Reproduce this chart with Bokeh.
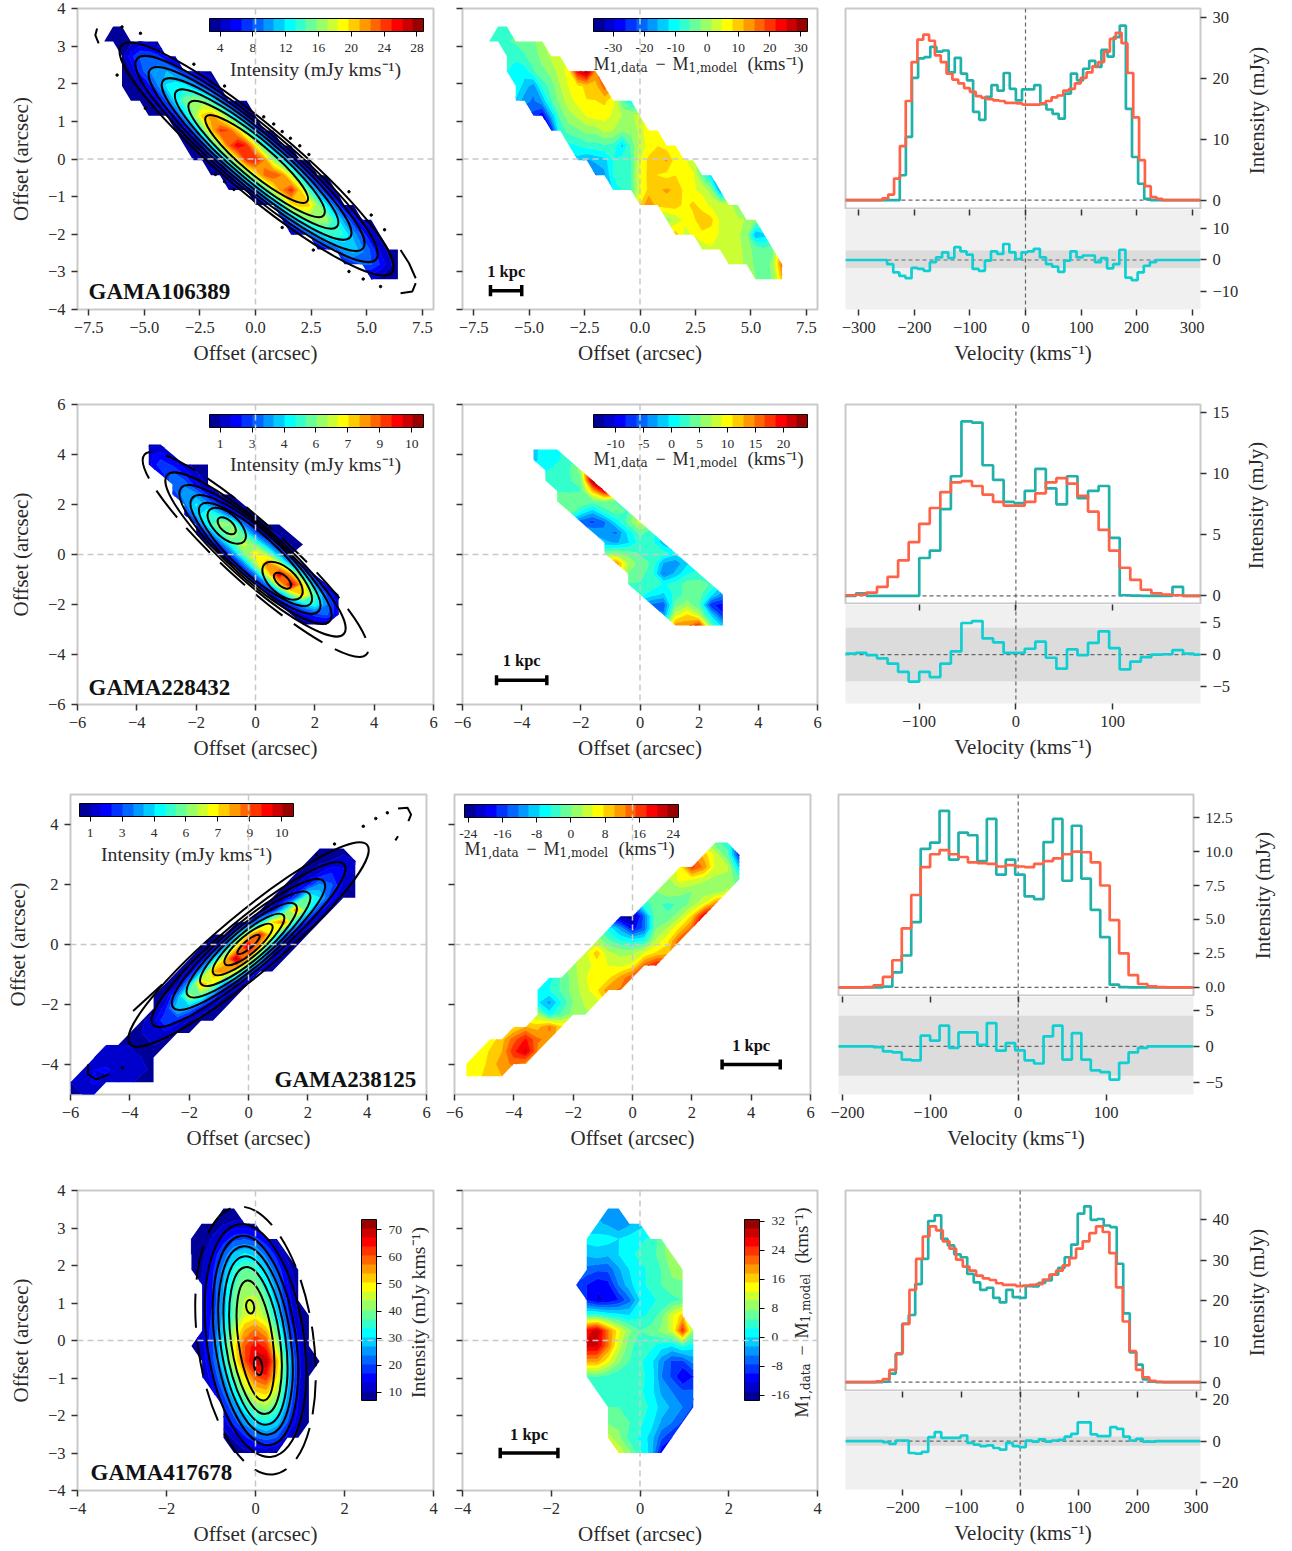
import math
import numpy as np
from bokeh.plotting import figure
from bokeh.layouts import row, column
from bokeh.models import (Range1d, FixedTicker, LinearAxis, Span, BoxAnnotation, Label,
                          ColorBar, LinearColorMapper, CustomLabelingPolicy)
from bokeh.embed import file_html
from bokeh.resources import INLINE

# ---------------- velocity profiles (mJy)
V1 = dict(model0=-252.3, modeld=10.5, data0=-220.8, datad=11.0, res0=-243.6, resd=11.0)
P1_MODEL = [.3,.93,3.56,8.9,16.3,22.7,26.4,27.2,26.2,23.8,22.7,20.8,19.8,19.2,18.4,17.8,17.1,16.8,16.6,16.4,16.3,16,16,15.9,15.7,15.7,15.7,15.9,16.3,16.9,17.2,18,18.3,19.2,20.1,21,22,22.7,24.4,26.5,27.5,25.8,20.9,13.6,6.6,2.3,.5,.2]
P1_DATA = [4.1,10.4,20.1,23.3,23.5,25.2,24.4,24.6,21,23.4,20.8,19.7,14.5,13.2,17,18.9,18,20.9,18.3,16.4,18.2,18.2,18.9,15.8,14.9,14.2,13.4,17.5,20.8,19.7,21.6,22.9,21.9,24.7,23.6,26.8,28.7,15,7.1,2.7,.2]
P1_RES = [-1.3,-3.9,-5,-5.7,-2.5,-2.8,-3.4,-.7,.8,2.4,.6,4,2.7,1.7,-2.8,-3.4,-.2,2.7,1.9,5,2.4,.3,2.4,2.7,3.5,.8,-1.3,-2.1,-3.7,-.2,2.7,.8,1.4,1.4,-.7,.6,-2.6,-1.3,3.2,-5.5,-6.3,-3.9,-1.8,-.7]
V2 = dict(model0=-170.7, modeld=10.9, data0=-170.7, datad=10.9, res0=-170.7, resd=10.9)
P2_MODEL = [.05,.1,.27,.74,1.55,2.9,4.4,5.9,7.2,8.5,9.3,9.4,9,8.3,7.7,7.4,7.4,7.7,8.4,9.3,9.65,9.2,8.2,6.9,5.4,3.7,2.3,1.3,.5,.2,.1,.05]
P2_DATA = [0,.2,0,0,0,0,0,3.1,3.7,7.1,9.8,14.3,14.2,10.7,9.5,7.7,7.6,8.6,10.4,8.8,7.5,9.8,8,8.6,9,4.75,.05,.02,0,0,0,.74,0]
P2_RES = [.15,.25,-.1,-.6,-1.4,-2.7,-4.2,-2.7,-3.5,-1.4,.5,4.9,5.2,2.5,1.9,.25,.25,.9,2,-.5,-2.2,.8,-.1,1.8,3.6,1,-2.3,-1.1,-.4,0,.05,.7,.15]
V3 = dict(model0=-170.2, modeld=10.76, data0=-170.2, datad=10.76, res0=-170.2, resd=10.76)
P3_MODEL = [.02,.15,.77,2,4.35,6.8,8.85,9.8,10.1,9.8,9.6,9.2,9.15,9.1,8.9,9,8.9,8.85,9.1,9.3,9.5,9.8,10,9.95,9.2,7.5,4.95,2.5,.9,.25,.07,.02]
P3_DATA = [0,0,.05,1.1,2.35,4.8,10.2,10.65,13,9.4,11.4,11.2,9.3,12.4,8.3,9.4,8.3,6.7,6.5,10.7,12.4,7.85,11.9,8,5.7,3.7,.2,.02]
P3_RES = [0,-.1,-.7,-.85,-1.85,-1.95,1.5,.8,2.9,-.2,1.95,1.95,.2,3.25,-.6,.45,-.55,-1.95,-2.4,1.4,2.9,-1.85,1.85,-1.85,-3.35,-3.6,-4.65,-2.3,-.85,-.2,0]
V4 = dict(model0=-239.8, modeld=11.36, data0=-239.8, datad=11.08, res0=-239.8, resd=11.08)
P4_MODEL = [.2,.75,3,7.1,14.3,22.7,30.3,35.8,38.3,37.3,34.6,32.8,30.1,28.4,27.4,26.2,25.5,25.1,24.3,23.9,23.9,23.6,23.7,23.9,24.1,25.2,26.4,27.4,28.7,30.5,32.8,34.6,36.6,38.3,36.9,31.7,23.3,14.9,7.6,3,1.15,.3,.1]
P4_DATA = [0,.1,2.1,6.9,14.3,16.5,24.1,30.3,39.6,41,35.2,33.6,31.4,30.7,26.6,24.5,22.7,23.2,20.7,19.6,22.7,20.9,20.7,23.6,23.5,24.4,25,26.4,28.1,30.7,33.8,41.4,43.2,39.9,40.1,38.5,38.1,29.1,16.9,7.3,4.3,.7,.1]
P4_RES = [0,-.5,-1.3,.3,.3,-5.7,-6,-5.2,1.9,4.3,1.6,1.6,1.6,2.7,-.8,-1.7,-2.4,-2,-3.3,-4.1,-.8,-2.4,-2.9,.3,-.2,.8,-.2,.3,.6,2.2,3.5,9,9,3.2,2.4,2.4,6.7,5.9,2.2,.3,1.1,-.2,-.2,0]

# ---------------- intensity maps: each row is (first x on the grid, node values) from the top row down
M1 = [(-6.4,[3,3]),(-6.8,[3,3,3,3.5,4,3.5,3]),(-6,[3.5,6,8,8,7,5,4]),
 (-6,[3,4,7,9,10.5,10.5,8.5,6.5,4.5,3.5,3]),(-6,[3,3,4,6,9,12,13,12.5,10.5,8,5.5,3.5]),
 (-5.6,[3,3,3.5,5,8,12,15,16.5,16,13.5,9,5.5,3.5,3]),(-4.8,[3,3,4,6.5,10.5,15.5,20,21.5,19,14,9.5,5.5,3.5]),
 (-3.6,[3,4,8,14,20,24,23.5,20,14.5,8.5,5.5,3.5]),(-3.2,[3,3.5,6,11.5,17,23,26,24.5,19,13,8,5,3.5]),
 (-2.8,[3,3,4.5,7.5,13,19,24,25,22,17,12.5,8,4.5,3]),(-2,[3,3.5,5.5,9,14,18.5,22.5,23.5,22,17.5,11.5,6.5,3.5,3]),
 (-1.2,[3,3.5,5.5,8.5,13,18,22,24.5,20,14,9,5.5,3.5]),(0,[3.5,5,8.5,13,19,20.5,20,16,12,8,4.5,3]),
 (1.2,[5.5,9,12.5,15.5,17,16.5,13,9.5,6.5,4,3]),(1.6,[3.5,5,8,10.5,13,14,13,10,7.5,5,3.5]),
 (2.8,[4,6,8,10.5,11.5,9.5,7.5,5,3.5,3]),(4,[5.5,7,8,8,6.5,4.5,3]),(5.2,[4,3.5,3,3])]
M2 = [(-3.6,[.9,.9]),(-3.6,[1.4,1.7,1.2]),(-3.6,[1.3,2.3,1.9,1.2,.8,.7]),(-3.2,[1.7,2.7,2,1.1,.7]),
 (-2.8,[2.8,2.9,1.7,.9]),(-2.8,[1.8,3.4,3.2,1.9,1,.7]),(-2.4,[2.8,4.1,3.2,1.9,1,.6]),(-2.4,[1.4,3.6,5,4,2.2,1.1,.7]),
 (-2,[1.9,4.3,6,5.5,3,1.4,.8,.7]),(-2,[.8,2.3,4.5,6,5,2.8,1.4,.9,.7]),(-1.6,[.9,2.3,4.6,6.3,5.3,3.2,1.7,1,.7]),
 (-1.2,[1,2.6,5.2,7,5.8,3.3,1.3]),(-.8,[1,2.8,5.7,8.2,6.5,3.3,1.2]),(-.4,[1.1,3,6.5,9.5,7.5,3.8,1.2]),
 (0,[1.1,3,6.8,9.6,7,3,.9]),(.4,[1,2.7,5.5,7.2,5,2.3,.8]),(.8,[1,2.2,3.6,4.5,3,1.2]),(1.2,[.8,1.4,2.2,2.6,1.5]),(1.6,[.7,.9,.9])]
M3 = [(2.4,[.6,.7,.8]),(2,[.7,.8,1,1.2,1]),(1.6,[.7,.9,1.5,2,1.7,.9]),(1.2,[.7,1,2,3.2,2.6,1.3,.8]),
 (.8,[.7,1,2.5,5.2,4,1.8,.9,.7]),(.4,[.7,1.2,4,8,4.5,1.7,.8]),(-.4,[.6,1.2,3.8,7,8,4,1.4,.7]),
 (-1.2,[.6,1,3.2,7,9,6.5,3,1.1,.6]),(-1.6,[.6,1,3,6.8,10,7,3,1.1,.6]),(-2,[.7,1.2,3.5,7,10,7.2,3.5,1.3,.6]),
 (-2.4,[.6,1.2,3.5,7.5,8,6,2.8,1.2,.7]),(-2.8,[.6,1,3.5,7.5,6.5,3,1.3,.7]),(-3.2,[.6,1,3,6,5,2.5,1,.6]),
 (-3.2,[.8,1.8,4,3.2,1.6,.8,.6]),(-3.6,[.9,1.3,2.5,1.8,.9,.6,.5]),(-4,[.9,1,1.5,1.3,.8,.6]),
 (-4.8,[1,1,1,1,1,.7]),(-5.2,[1,1.2,1.2,1.1,1,.9]),(-5.6,[1.1,1.5,1.6,1.3,1.4,1.1,.9]),
 (-6,[1,1.3,1.6,1.3,1,1.1,.8,.8]),(-6,[.9,1,1])]
M4 = [(-.72,[8,8]),(-1.2,[7,8,10,11,11,9]),(-1.44,[7,8,11,15,19,20,18,14,9]),(-1.44,[7,9,14,21,28,31,29,22,15,9]),
 (-1.44,[8,10,16,25,34,38,36,28,20,12,8]),(-1.2,[11,17,27,36,42,41,33,24,14,9]),(-1.2,[11,17,27,38,44,45,38,27,16,9]),
 (-1.2,[11,18,28,38,46,48,42,30,18,10,8]),(-1.2,[12,19,30,43,54,58,53,37,22,12,8]),(-1.44,[8,12,20,32,48,60,66,62,44,26,14,9]),
 (-1.2,[11,19,31,46,60,69,70,53,31,15,9,7.5]),(-1.2,[10,16,26,38,50,60,63,50,29,15,8]),(-.96,[13,21,31,42,50,52,44,27,14,8]),
 (-.72,[16,24,33,40,42,37,24,13,8]),(-.72,[12,18,25,30,33,29,20,11,7.5]),(-.72,[8,11,16,20,22,20,12,8]),(-.48,[8,9,10,10,8])]

# ---------------- velocity-residual maps (km/s), same row layout
R1 = [(-6.4,[-7,-7]),(-6.8,[-6,-6,-6,-5,-4,-3,1]),(-6,[-7,-8,-6,-4,-1,2,3]),
 (-6,[-9,-11,-11,-6,-3,-1,3,6,24,30,14]),(-5.6,[-10,-14,-18,-8,-4,1,5,7,9,10,17]),
 (-5.6,[-13,-18,-20,-16,-6,-1,3,6,8,8,9,5,-5,-12]),(-4.8,[-24,-30,-16,-5,0,2,5,6,6,4,1,1,2]),
 (-4,[-28,-8,-4,-3,-1,-1,2,1,-2,-1,2,8,7]),(-3.2,[-10,-9,-7,-7,-6,-7,-14,-5,2,6,8,6,5]),
 (-2.8,[-14,-17,-15,-14,-9,-7,-6,4,9,10,12,6,5,3]),(-2,[-20,-17,-9,-7,-6,5,9,8,7,8,5,5,-5,-14]),
 (-1.2,[-12,-8,-6,4,9,11,12,11,7,5,4,-1,-18]),(0,[8,15,9,10,10,7,9,6,4,3,3,-3]),
 (1.2,[-1,2,5,7,11,9,4,2,2,1,-2]),(1.6,[10,4,5,7,7,4,3,2,-2,-16,-14]),(2.8,[2,4,3,2,3,-1,-3,-5,-3]),
 (4,[4,3,0,-3,-4,-1,16]),(5.2,[-2,-3,-2,10])]
R2 = [(-3.6,[-1,0,1]),(-3.6,[-1,0,1,2]),(-3.2,[1,2,3,6]),(-3.2,[2,3,3,4,23]),(-2.8,[3,3,3,12,20]),
 (-2.8,[5,4,5,4,5,3]),(-2.4,[5,1,-2,2,4,3]),(-2,[-6,-7,-5,0,4,8]),(-1.6,[-3,-4,-5,0,4,2]),(-1.2,[-2,-3,-1,2,2,-2]),
 (-1.2,[4,5,4,3,3,2,0]),(-.8,[14,7,4,3,-3,-4,-1]),(-.4,[5,4,2,-5,-2,1,2]),(-.4,[3,3,3,1,2,4,4,3]),
 (0,[2,0,-1,2,4,4,0,-4]),(.4,[-5,-6,4,6,3,-8,-9]),(.8,[-4,8,11,7,-1,-8]),(1.2,[14,14,18,4,-2])]
R3 = [(2.8,[-2,-3]),(2.4,[9,4,-2,-18]),(1.6,[6,16,12,4,3,-9]),(1.2,[2,6,5,3,2,2,-2]),(.8,[0,2,1,0,1,1,3]),
 (.4,[-3,-2,-3,-2,1,5,12]),(-.4,[-24,-24,-14,0,-2,2,8,20]),(-.8,[-6,-11,-19,-14,0,3,8,14]),
 (-1.2,[2,-2,-5,-6,-5,3,7,15]),(-1.6,[4,9,3,2,2,5,8,9]),(-2,[2,4,6,5,4,6,14,18]),(-2.8,[-6,-2,1,5,6,7,11,15]),
 (-3.2,[-5,-5,-2,1,4,7,12,13]),(-3.2,[-7,-11,-5,0,3,4]),(-3.2,[2,-6,-2,1,2]),(-4,[7,10,9,13,8]),
 (-4.8,[6,9,14,18,13,12]),(-5.2,[5,8,10,17,21,12]),(-5.6,[6,7,8,12,13,11]),(-5.6,[6,7,9,10])]
R4 = [(-.72,[-4,-4]),(-.96,[-2,-3,-5,-3,-1]),(-1.2,[1,1,1,0,1,2,3,6]),(-1.2,[-2,-1,-2,0,2,3,4,6,10]),
 (-1.2,[-6,-7,-7,-3,0,2,3,5,8,9]),(-1.44,[-8,-10,-12,-11,-5,-1,2,3,5,7,7]),(-1.2,[-10,-13,-12,-10,-6,0,2,3,4,5]),
 (-1.2,[4,4,2,1,0,2,3,6,12,16]),(-1.2,[26,29,20,13,8,5,6,8,11,24,8]),(-1.2,[28,28,20,11,6,3,3,1,0,3,1]),
 (-1.2,[18,18,13,8,5,3,1,-4,-8,-8,-4]),(-1.2,[5,5,4,3,3,3,2,-5,-8,-13,-10]),(-.96,[4,4,3,3,3,1,-3,-5,-7,-7]),
 (-.72,[5,5,4,4,2,-1,-3,-5,-8]),(-.72,[7,7,5,3,1,-3,-5,-8]),(-.72,[11,8,4,2,-1,-7,-10]),(-.48,[12,8,3,-1,-12])]

# ---------------- model contours: x0, y0, width, height (axis units), angle (deg)
RINGS1 = [(0.05,0,5.93,.77,-40),(0.05,0,7.87,.99,-40),(0.05,0,9.44,1.17,-40),(0.05,0,10.97,1.33,-40),(0.05,0,12.49,1.49,-40),(0.05,0,14.02,1.65,-40),(0.05,0,15.87,1.81,-40)]
RINGS2 = [(0,0,8.01,2.16,-42),(0,0,6.73,2,-42),(0,0,5.72,1.84,-42),(0,0,4.98,1.6,-42),(-.97,1.15,1.58,.96,-42),(-.97,1.15,.74,.48,-42),(.91,-1.05,1.65,1.04,-42),(.91,-1.05,.7,.44,-42)]
RINGS2_DASH = [(0,0,10.07,2.4,-42)]
RINGS3 = [(0,0,10.44,2,40),(0,0,8.41,1.67,40),(0,0,6.62,1.47,40),(0,0,5.34,1.27,40),(0,0,4.16,1.07,40),(0,0,3.07,.83,40),(0,0,2.06,.6,40),(0,0,.95,.27,40)]
RINGS4 = [(0,0,2.18,6.27,8),(0,0,1.82,5.63,8),(0,0,1.58,5.07,8),(0,0,1.35,4.53,8),(0,0,1.1,3.95,8),(0,0,.77,3.23,8),(-.12,.9,.18,.36,8),(.06,-.68,.18,.49,8)]
RINGS4_DASH = [(0,0,2.6,7.2,8)]
ARCS1 = [([-7.12,-7.2,-7.05],[3.47,3.29,3.07]),([6.52,6.9,7.2],[-2.42,-2.77,-3.17]),([7.2,7.05,6.52],[-3.3,-3.52,-3.57])]
DOTS1X = [-6,-5.17,-2.77,-1.39,.37,.82,1.2,1.57,1.99,2.4,4.2,5.2,5.8,-4.95,-6.22,-1.8,-1.39,-.97,1.2,2.6,4.2,4.84,5.62]
DOTS1Y = [3.51,3.34,2.52,1.94,1.12,.93,.73,.55,.35,.12,-.87,-1.49,-1.88,1.35,2.23,-.41,-.6,-.81,-1.82,-2.42,-2.99,-3.19,-3.39]
ARCS3 = [([5.04,5.36,5.48,5.39],[4.53,4.56,4.33,4.11]),([5.04,4.95],[3.61,3.47]),([-5.41,-5.41,-5.14,-4.7],[-4,-4.33,-4.5,-4.33]),([-3.89,-2.91],[-2.22,-1.33])]
DOTS3X = [3.87,4.29,4.68,-4.25,2.3,2.9]
DOTS3Y = [3.94,4.2,4.39,-4.11,3.0,3.35]

# ---------------- tick marks and labels
T1X = [-7.5,-5,-2.5,0,2.5,5,7.5]
T1XL = ["\u22127.5","\u22125.0","\u22122.5","0.0","2.5","5.0","7.5"]
T1Y = [-4,-3,-2,-1,0,1,2,3,4]
T2X = [-6,-4,-2,0,2,4,6]
T3Y = [-4,-2,0,2,4]
T4X = [-4,-2,0,2,4]
CB_I1 = ([4,8,12,16,20,24,28], ["4","8","12","16","20","24","28"])
CB_I2 = ([1,2.5,4,5.5,7,8.5,10], ["1","3","4","6","7","9","10"])
CB_I4 = ([10,20,30,40,50,60,70], ["10","20","30","40","50","60","70"])
CB_R1 = ([-30,-20,-10,0,10,20,30], ["-30","-20","-10","0","10","20","30"])
CB_R2 = ([-10,-5,0,5,10,15,20], ["-10","-5","0","5","10","15","20"])
CB_R3 = ([-24,-16,-8,0,8,16,24], ["-24","-16","-8","0","8","16","24"])
CB_R4 = ([-16,-8,0,8,16,24,32], ["-16","-8","0","8","16","24","32"])
NAMES = ["GAMA106389","GAMA228432","GAMA238125","GAMA417678"]

SERIF = "Liberation Serif"
AX = "#333333"
EDGE = "#c9c9c9"
TXT = "#2a2a2a"
OFFSET = "Offset (arcsec)"
VEL = "Velocity (kms\u207b\u00b9)"
INTEN = "Intensity (mJy kms\u207b\u00b9)"


def jet(t):
    c = lambda v: int(round(255*min(1, max(0, v))))
    return "#%02x%02x%02x" % (c(1.5-abs(4*t-3)), c(1.5-abs(4*t-2)), c(1.5-abs(4*t-1)))


PAL = [jet((i+.5)/20) for i in range(20)]


def fmt(v):
    return ("\u2212" if v < 0 else "") + ("%g" % abs(v))


def grid(rows, dx, ytop, dy):
    starts = [r[0] for r in rows]
    ends = [r[0]+dx*(len(r[1])-1) for r in rows]
    x0, x1 = min(starts), max(ends)
    nx = int(round((x1-x0)/dx))+1
    z = np.full((len(rows), nx), np.nan)
    for j, (s, vals) in enumerate(rows):
        i0 = int(round((s-x0)/dx))
        z[j, i0:i0+len(vals)] = vals
    xs = x0+dx*np.arange(nx)
    ys = ytop-dy*np.arange(len(rows))
    return xs, ys[::-1], z[::-1]


def style_axis(a, ticks, labels=None, size="16.5px", show=True):
    a.ticker = FixedTicker(ticks=list(ticks))
    a.axis_line_color = None
    a.major_tick_line_color = AX
    a.major_tick_line_width = 1.5
    a.major_tick_out = 6
    a.major_tick_in = 0
    a.minor_tick_line_color = None
    a.major_label_text_font = SERIF
    a.major_label_text_color = TXT
    a.axis_label_text_font = SERIF
    a.axis_label_text_font_size = "21px"
    a.axis_label_text_font_style = "normal"
    a.axis_label_text_color = TXT
    a.axis_label_standoff = 5
    if show:
        a.major_label_overrides = {t: (labels[i] if labels else fmt(t)) for i, t in enumerate(ticks)}
        a.major_label_text_font_size = size
        a.major_label_standoff = 6
    else:
        a.major_label_policy = CustomLabelingPolicy(code="")
        a.major_label_text_font_size = "0px"
        a.major_label_standoff = 0


class F:
    def __init__(s, left, top, w, h, xr, yr):
        s.left, s.top, s.w, s.h, s.xr, s.yr = left, top, w, h, xr, yr

    def dx(s, px):
        return s.xr[0]+(px-s.left)/s.w*(s.xr[1]-s.xr[0])

    def dy(s, py):
        return s.yr[1]-(py-s.top)/s.h*(s.yr[1]-s.yr[0])


def text(p, f, px, py, t, size="19.8px", align="center", angle=0, font=SERIF, style="normal", color=TXT):
    p.add_layout(Label(x=f.dx(px), y=f.dy(py), text=t, text_font=font, text_font_size=size, text_font_style=style,
                       text_align=align, text_baseline="middle", text_color=color, angle=angle))


def map_panel(cell, left, top, w, h, xr, yr, xt, yt, ylabels, field, low, high, cbt, cbpos, xl=None, ystandoff=12):
    l0, r0, t0, b0 = cell
    p = figure(frame_width=w, frame_height=h, x_range=Range1d(*xr), y_range=Range1d(*yr),
               min_border_left=left-l0, min_border_right=r0-left-w, min_border_top=top-t0, min_border_bottom=b0-top-h,
               output_backend="svg", toolbar_location=None, tools="")
    p.grid.visible = False
    p.outline_line_color = EDGE
    p.outline_line_width = 2
    style_axis(p.xaxis[0], xt, labels=xl)
    style_axis(p.yaxis[0], yt, show=ylabels)
    if ylabels:
        p.yaxis[0].axis_label = OFFSET
        p.yaxis[0].axis_label_standoff = ystandoff
    p.xaxis[0].axis_label = OFFSET
    xs, ys, z = field
    levels = list(np.linspace(low, high, 21))
    p.contour(xs, ys, z, levels, fill_color=PAL, line_color=PAL+[PAL[-1]], line_width=1)
    cm = LinearColorMapper(palette=PAL, low=low, high=high)
    ticks, labs = cbt
    kw = dict(color_mapper=cm, ticker=FixedTicker(ticks=ticks),
              major_label_overrides={t: labs[i] for i, t in enumerate(ticks)},
              major_label_text_font=SERIF, major_label_text_font_size="13.5px", major_label_text_color=TXT,
              major_tick_in=0, major_tick_out=5, major_tick_line_color="black", major_tick_line_width=1,
              minor_tick_line_color=None, bar_line_color="black", bar_line_width=1,
              padding=0, background_fill_alpha=0, border_line_color=None, label_standoff=7)
    if cbpos[0] == "h":
        kw.update(orientation="horizontal", width=214, height=13, location=cbpos[1], margin=cbpos[2])
    else:
        kw.update(orientation="vertical", width=15, height=181, location=cbpos[1])
    p.add_layout(ColorBar(**kw))
    for d in ("width", "height"):
        p.add_layout(Span(location=0, dimension=d, line_color="#c8c8c8", line_dash="6 4", line_width=1.5))
    return p, F(left, top, w, h, xr, yr)


def rings(p, table, dash=None):
    a = np.array(table, dtype=float)
    kw = dict(line_dash=dash) if dash else {}
    p.ellipse(a[:, 0], a[:, 1], width=a[:, 2], height=a[:, 3], angle=np.radians(a[:, 4]),
              fill_color=None, line_color="black", line_width=2, **kw)


def scalebar(p, f, x0, x1, y, cap, lx, ly):
    p.segment(x0=[x0, x0, x1], y0=[y, y-cap, y-cap], x1=[x1, x0, x1], y1=[y, y+cap, y+cap], line_color="black", line_width=3.5)
    p.add_layout(Label(x=lx, y=ly, text="1 kpc", text_font=SERIF, text_font_size="16.5px", text_font_style="bold",
                       text_align="center", text_baseline="middle", text_color="#111111"))


def mom1_label(p, f, px, py, vertical=False):
    segs = [("M", 0, 0, SERIF, "18px"), ("1,data", 16, 4, "DejaVu Serif", "12px"), ("\u2212", 62, 0, SERIF, "18px"),
            ("M", 79, 0, SERIF, "18px"), ("1,model", 95, 4, "DejaVu Serif", "12px"),
            ("(kms\u207b\u00b9)", 154, 0, SERIF, "19px")]
    for t, off, drop, font, size in segs:
        if vertical:
            text(p, f, px+drop, py-off, t, size=size, align="left", angle=math.pi/2, font=font)
        else:
            text(p, f, px+off, py+drop, t, size=size, align="left", font=font)


def spectrum(cell, left, top, w, h1, h2, xr, y1, y2, xt, yt1, yt2, band, vv, model, data, res, dec=None, lab=(1255, 110), size="16.5px"):
    l0, r0, t0, b0 = cell
    split = 1240
    xrange_ = Range1d(*xr)
    a = figure(frame_width=w, frame_height=h1, x_range=xrange_, y_range=Range1d(*y1), y_axis_location="right", x_axis_location=None,
               min_border_left=left-l0, min_border_right=split-left-w, min_border_top=top-t0, min_border_bottom=0,
               output_backend="svg", toolbar_location=None, tools="")
    b = figure(frame_width=w, frame_height=h2, x_range=xrange_, y_range=Range1d(*y2), y_axis_location="right",
               min_border_left=left-l0, min_border_right=split-left-w, min_border_top=0, min_border_bottom=b0-top-h1-h2,
               output_backend="svg", toolbar_location=None, tools="", background_fill_color="#f0f0f0")
    for q in (a, b):
        q.grid.visible = False
    a.outline_line_color = EDGE
    a.outline_line_width = 2
    b.outline_line_color = None
    style_axis(a.yaxis[0], yt1, labels=[("%.1f" % t) for t in yt1] if dec else None, size=size)
    style_axis(b.yaxis[0], yt2)
    style_axis(b.xaxis[0], xt)
    b.xaxis[0].axis_label = VEL
    top_ax = LinearAxis()
    style_axis(top_ax, xt, show=False)
    top_ax.major_tick_in = 6
    top_ax.major_tick_out = 0
    b.add_layout(top_ax, "above")
    b.add_layout(BoxAnnotation(bottom=band[0], top=band[1], fill_color="#dcdcdc", fill_alpha=1, line_color=None, level="underlay"))

    def xy(v0, dv, vals):
        c = v0+dv*np.arange(len(vals))
        return np.r_[xr[0], c[0]-dv, c, c[-1]+dv, xr[1]], np.r_[0, 0, vals, 0, 0]

    for q in (a, b):
        q.add_layout(Span(location=0, dimension="height", line_color="#666666", line_dash="4 3", line_width=1.2, level="underlay"))
        q.add_layout(Span(location=0, dimension="width", line_color="#666666", line_dash="4 3", line_width=1.2, level="underlay"))
    x, y = xy(vv["data0"], vv["datad"], data)
    a.step(x, y, mode="center", line_color="#20b2aa", line_width=2.7)
    x, y = xy(vv["model0"], vv["modeld"], model)
    a.step(x, y, mode="center", line_color="#ff6347", line_width=2.7)
    x, y = xy(vv["res0"], vv["resd"], res)
    b.step(x, y, mode="center", line_color="#0fcfd2", line_width=2.7)
    # side strip that carries the right-hand axis title
    lf = figure(frame_width=r0-split, frame_height=top-t0+h1, x_range=Range1d(split, r0), y_range=Range1d(top+h1, t0),
                x_axis_location=None, y_axis_location=None, min_border=0, min_border_left=0, min_border_right=0,
                min_border_top=0, min_border_bottom=0, output_backend="svg", toolbar_location=None, tools="")
    lf.grid.visible = False
    lf.outline_line_color = None
    lf.add_layout(Label(x=lab[0], y=lab[1], text="Intensity (mJy)", text_font=SERIF, text_font_size="21px", text_color=TXT,
                        text_align="center", text_baseline="middle", angle=math.pi/2))
    return row(column(a, b, spacing=0), lf, spacing=0)


# ---- row 1
C = (0, 440, 0, 395)
p, f = map_panel(C, 77, 8, 356, 301, (-8, 8), (-4, 4), T1X, T1Y, True, grid(M1, .4, 3.52, .395), 2.7, 28.8, CB_I1, ("h", "top_right", 10), xl=T1XL)
rings(p, RINGS1)
p.multi_line([a[0] for a in ARCS1], [a[1] for a in ARCS1], line_color="black", line_width=2)
p.scatter(DOTS1X, DOTS1Y, size=2.5, color="black")
text(p, f, 315, 68, INTEN)
text(p, f, 88, 291, NAMES[0], size="23px", align="left", style="bold", color="#111111")
a1 = p
C = (440, 830, 0, 395)
p, f = map_panel(C, 462, 8, 355, 301, (-8, 8), (-4, 4), T1X, T1Y, False, grid(R1, .4, 3.52, .395), -36.3, 32.1, CB_R1, ("h", "top_right", 10), xl=T1XL)
mom1_label(p, f, 593, 63)
scalebar(p, f, -6.74, -5.33, -3.5, .15, -6.03, -3)
b1 = p
c1 = spectrum((830, 1292, 0, 395), 845, 8, 355, 201, 100, (-324, 315), (-1.53, 31.5), (-15.5, 15.8), [-300,-200,-100,0,100,200,300], [0,10,20,30], [-10,0,10],
              (-2.5, 2.95), V1, P1_MODEL, P1_DATA, P1_RES, lab=(1255, 110))

# ---- row 2
C = (0, 440, 395, 785)
p, f = map_panel(C, 77, 404, 356, 300, (-6, 6), (-6, 6), T2X, T2X, True, grid(M2, .4, 4.4, .4), .5, 10.55, CB_I2, ("h", "top_right", 10))
rings(p, RINGS2)
rings(p, RINGS2_DASH, dash="34 14")
text(p, f, 315, 463, INTEN)
text(p, f, 88, 687, NAMES[1], size="23px", align="left", style="bold", color="#111111")
a2 = p
C = (440, 830, 395, 785)
p, f = map_panel(C, 462, 404, 355, 300, (-6, 6), (-6, 6), T2X, T2X, False, grid(R2, .4, 4.2, .414), -14, 24.3, CB_R2, ("h", "top_right", 10))
mom1_label(p, f, 593, 458)
scalebar(p, f, -4.85, -3.15, -5.03, .2, -4, -4.25)
b2 = p
c2 = spectrum((830, 1292, 395, 785), 845, 404, 355, 200, 99, (-176, 190.7), (-.71, 15.68), (-7.6, 7.77), [-100,0,100], [0,5,10,15], [-5,0,5],
              (-4.15, 4.15), V2, P2_MODEL, P2_DATA, P2_RES, lab=(1255, 505))

# ---- row 3
C = (0, 440, 785, 1180)
p, f = map_panel(C, 70, 794, 356, 300, (-6, 6), (-5, 5), T2X, T3Y, True, grid(M3, .4, 3.2, .41), .5, 10.55, CB_I2, ("h", "top_left", 9), ystandoff=8)
rings(p, RINGS3)
p.multi_line([a[0] for a in ARCS3], [a[1] for a in ARCS3], line_color="black", line_width=2)
p.scatter(DOTS3X, DOTS3Y, size=2.5, color="black")
text(p, f, 186, 853, INTEN)
text(p, f, 274, 1079, NAMES[2], size="23px", align="left", style="bold", color="#111111")
a3 = p
C = (440, 830, 785, 1180)
p, f = map_panel(C, 454, 794, 356, 300, (-6, 6), (-5, 5), T2X, T3Y, False, grid(R3, .4, 3.4, .41), -24.9, 25.2, CB_R3, ("h", "top_left", 10))
mom1_label(p, f, 464, 848)
scalebar(p, f, 3.02, 4.98, -4, .17, 4, -3.36)
b3 = p
c3 = spectrum((830, 1292, 785, 1180), 838, 794, 355, 202, 98, (-204.6, 199.6), (-.67, 14.2), (-6.74, 6.98), [-200,-100,0,100,200], [0,2.5,5,7.5,10,12.5], [-5,0,5],
              (-4.1, 4.28), V3, P3_MODEL, P3_DATA, P3_RES, dec=1, lab=(1262, 895), size="15.5px")

# ---- row 4
C = (0, 440, 1180, 1548)
p, f = map_panel(C, 77, 1190, 356, 300, (-4, 4), (-4, 4), T4X, T1Y, True, grid(M4, .24, 3.52, .4075), 7, 73.8, CB_I4, ("v", (284, 90)))
rings(p, RINGS4)
rings(p, RINGS4_DASH, dash="34 14")
text(p, f, 417, 1312, INTEN, angle=math.pi/2)
text(p, f, 90, 1472, NAMES[3], size="23px", align="left", style="bold", color="#111111")
a4 = p
C = (440, 830, 1180, 1548)
p, f = map_panel(C, 462, 1190, 355, 300, (-4, 4), (-4, 4), T4X, T1Y, False, grid(R4, .24, 3.52, .4075), -17.4, 32.5, CB_R4, ("v", (282, 90)))
mom1_label(p, f, 801, 1417, vertical=True)
scalebar(p, f, -3.15, -1.85, -3, .14, -2.5, -2.5)
b4 = p
c4 = spectrum((830, 1292, 1180, 1548), 845, 1190, 355, 201, 98, (-297.7, 307.4), (-2.3, 47.1), (-23.2, 23.8), [-200,-100,0,100,200,300], [0,10,20,30,40], [-20,0,20],
              (-2.2, 2.2), V4, P4_MODEL, P4_DATA, P4_RES, lab=(1255, 1292))

page = column(row(a1, b1, c1, spacing=0), row(a2, b2, c2, spacing=0), row(a3, b3, c3, spacing=0), row(a4, b4, c4, spacing=0),
              spacing=0)
open("out.html", "w").write(file_html(page, INLINE))
